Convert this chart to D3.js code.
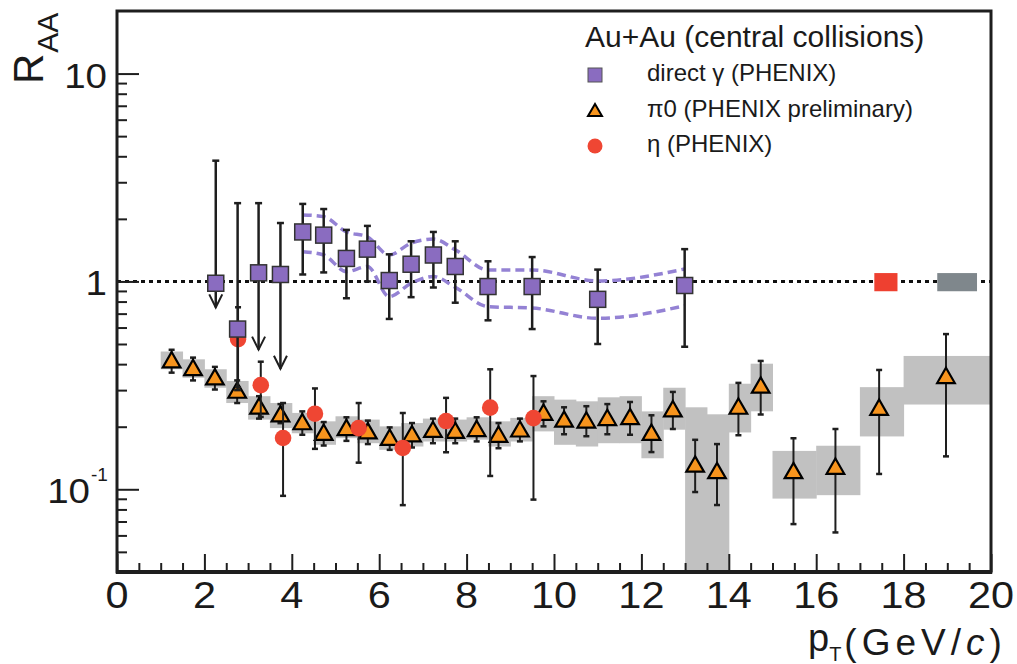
<!DOCTYPE html>
<html>
<head>
<title>RAA Au+Au</title>
<meta charset="utf-8">
<style type="text/css">
body { margin: 0; background: #ffffff; }
text { font-family: 'Liberation Sans', Arial, Helvetica, sans-serif; fill: #1a1a1a; }
</style>
</head>
<body>

<script src="https://d3js.org/d3.v7.min.js"></script>
<script type="text/javascript">

// ---- data ----

// direct photon (squares)
var gamX    = [2.26, 2.76, 3.24, 3.74, 4.25, 4.73, 5.25, 5.73, 6.23, 6.73, 7.24, 7.74, 8.49, 9.50, 11.0, 12.99];
var gamY    = [0.98, 0.59, 1.10, 1.08, 1.73, 1.67, 1.29, 1.43, 1.01, 1.21, 1.34, 1.18, 0.945, 0.945, 0.82, 0.956];
var gamHi   = [3.81, 2.38, 2.38, 1.91, 2.36, 2.23, 1.77, 1.85, 1.35, 1.56, 1.73, 1.56, 1.25, 1.31, 1.14, 1.43];
var gamLo   = [0.75, 0.30, 0.47, 0.38, 1.08, 1.105, 0.83, 1.00, 0.66, 0.84, 0.935, 0.79, 0.65, 0.59, 0.50, 0.485];
var gamLimit = [true, false, true, true, false, false, false, false, false, false, false, false, false, false, false, false];

// direct photon systematic band (dashed)
var bandX  = [4.25, 4.73, 5.25, 5.73, 6.23, 6.73, 7.24, 7.74, 8.49, 9.50, 11.0, 12.99];
var bandHi = [2.09, 2.05, 1.73, 1.64, 1.34, 1.53, 1.60, 1.42, 1.136, 1.136, 1.005, 1.148];
var bandLo = [1.39, 1.34, 1.115, 1.18, 0.845, 0.98, 1.055, 0.938, 0.756, 0.745, 0.665, 0.763];

// pi0 (triangles)
var piX  = [1.25, 1.74, 2.24, 2.75, 3.25, 3.74, 4.24, 4.73, 5.25, 5.74, 6.24, 6.75, 7.23, 7.74, 8.23, 8.73,
            9.22, 9.76, 10.23, 10.74, 11.22, 11.74, 12.23, 12.72, 13.23, 13.73, 14.22, 14.73, 15.48, 16.44, 17.44, 18.97];
var piY  = [0.413, 0.379, 0.342, 0.295, 0.2475, 0.227, 0.208, 0.185, 0.195, 0.188, 0.175, 0.182, 0.191, 0.189, 0.193, 0.181,
            0.192, 0.231, 0.214, 0.212, 0.218, 0.220, 0.185, 0.240, 0.130, 0.121, 0.247, 0.312, 0.121, 0.127, 0.244, 0.347];
var piHi = [0.469, 0.430, 0.388, 0.334, 0.2805, 0.257, 0.237, 0.2106, 0.222, 0.214, 0.1985, 0.2083, 0.2188, 0.2188, 0.222, 0.2083,
            0.2188, 0.265, 0.248, 0.251, 0.257, 0.263, 0.227, 0.294, 0.173, 0.165, 0.325, 0.4145, 0.176, 0.195, 0.375, 0.558];
var piLo = [0.364, 0.334, 0.302, 0.260, 0.2188, 0.208, 0.183, 0.1624, 0.171, 0.165, 0.1548, 0.1589, 0.1666, 0.1666, 0.170, 0.1576,
            0.170, 0.2008, 0.184, 0.180, 0.184, 0.183, 0.151, 0.195, 0.097, 0.084, 0.182, 0.229, 0.068, 0.062, 0.1185, 0.144];
// pi0 systematic boxes
var piBinLo = [1.0, 1.5, 2.0, 2.5, 3.0, 3.5, 4.0, 4.5, 5.0, 5.5, 6.0, 6.5, 7.0, 7.5, 8.0, 8.5,
               9.0, 9.5, 10.0, 10.5, 11.0, 11.5, 12.0, 12.5, 13.0, 13.5, 14.0, 14.5, 15, 16, 17, 18];
var piBinHi = [1.5, 2.0, 2.5, 3.0, 3.5, 4.0, 4.5, 5.0, 5.5, 6.0, 6.5, 7.0, 7.5, 8.0, 8.5, 9.0,
               9.5, 10.0, 10.5, 11.0, 11.5, 12.0, 12.5, 13.0, 13.5, 14.0, 14.5, 15, 16, 17, 18, 20];
var piSysHi = [0.460, 0.422, 0.378, 0.332, 0.2805, 0.260, 0.233, 0.2123, 0.2245, 0.2164, 0.2008, 0.2083, 0.2188, 0.2164, 0.222, 0.2123,
               0.2205, 0.2805, 0.270, 0.265, 0.277, 0.2805, 0.237, 0.308, 0.248, 0.2295, 0.322, 0.402, 0.153, 0.162, 0.310, 0.438];
var piSysLo = [0.378, 0.344, 0.308, 0.260, 0.2164, 0.197, 0.186, 0.1637, 0.1762, 0.1666, 0.1548, 0.1606, 0.1698, 0.1698, 0.1733, 0.1606,
               0.1698, 0.1899, 0.1637, 0.1606, 0.1666, 0.1666, 0.141, 0.1935, 0.02, 0.02, 0.1877, 0.2372, 0.0902, 0.0937, 0.1796, 0.2557];

// eta (circles)
var etaX  = [2.77, 3.29, 3.80, 4.53, 5.53, 6.54, 7.53, 8.54, 9.53];
var etaY  = [0.528, 0.317, 0.1765, 0.231, 0.197, 0.158, 0.213, 0.247, 0.220];
var etaHi = [0.751, 0.411, 0.260, 0.3056, 0.260, 0.2328, 0.2753, 0.3778, 0.3506];
var etaLo = [0.31, 0.223, 0.093, 0.1565, 0.1343, 0.0839, 0.1507, 0.1159, 0.0892];

// normalisation boxes at R_AA = 1
var normX0 = [17.33, 18.77];
var normX1 = [17.86, 19.68];
var normLo = [0.897, 0.897];
var normHi = [1.097, 1.097];
var normColor = ['#ee4030', '#7f878c'];

// ticks
var xMajor = [0, 2, 4, 6, 8, 10, 12, 14, 16, 18, 20];
var xLabels = ['0', '2', '4', '6', '8', '10', '12', '14', '16', '18', '20'];
var xMinor = d3.range(0.5, 20, 0.5).filter(function(v) { return v % 2 != 0; });
var yMajor = [0.1, 1, 10];
var yLabelBase = ['10', '1', '10'];
var yLabelExp = ['-1', '', ''];
var yMinor = [0.05, 0.06, 0.07, 0.08, 0.09, 0.2, 0.3, 0.4, 0.5, 0.6, 0.7, 0.8, 0.9, 2, 3, 4, 5, 6, 7, 8, 9];

var legendText = ['direct \u03b3 (PHENIX)', '\u03c00 (PHENIX preliminary)', '\u03b7 (PHENIX)'];

// ---- layout ----
var width = 1017, height = 664;
var pLeft = 117, pRight = 991, pTop = 11, pBottom = 572;

var x = d3.scaleLinear().domain([0, 20]).range([pLeft, pRight]);
var y = d3.scaleLog().domain([0.04, 20]).range([pBottom, pTop]);

var purple = '#8a6cc0', band = '#9482d4', orange = '#f7941d', red = '#ef4633', gray = '#c1c1c1', ink = '#1e1e1e';

var svg = d3.select('body').append('svg')
    .attr('width', width)
    .attr('height', height);

svg.append('defs').append('clipPath').attr('id', 'plotclip')
  .append('rect')
    .attr('x', pLeft).attr('y', pTop)
    .attr('width', pRight - pLeft).attr('height', pBottom - pTop);

var plot = svg.append('g').attr('clip-path', 'url(#plotclip)');

// pi0 systematic boxes
var pi0 = piX.map(function(v, i) {
  return {x: v, y: piY[i], hi: piHi[i], lo: piLo[i], x0: piBinLo[i], x1: piBinHi[i], sHi: piSysHi[i], sLo: piSysLo[i]};
});

plot.selectAll('.sys')
    .data(pi0)
  .enter().append('rect')
    .attr('x', function(d) { return x(d.x0); })
    .attr('width', function(d) { return x(d.x1) - x(d.x0) + 0.5; })
    .attr('y', function(d) { return y(d.sHi); })
    .attr('height', function(d) { return y(d.sLo) - y(d.sHi); })
    .attr('fill', gray);

// dotted line at 1
plot.append('line')
    .attr('x1', x(0)).attr('x2', x(20))
    .attr('y1', y(1)).attr('y2', y(1))
    .attr('stroke', '#111')
    .attr('stroke-width', 3)
    .attr('stroke-dasharray', '4,4');

// normalisation boxes
plot.selectAll('.norm')
    .data(normX0)
  .enter().append('rect')
    .attr('x', function(d) { return x(d); })
    .attr('width', function(d, i) { return x(normX1[i]) - x(d); })
    .attr('y', function(d, i) { return y(normHi[i]); })
    .attr('height', function(d, i) { return y(normLo[i]) - y(normHi[i]); })
    .attr('fill', function(d, i) { return normColor[i]; });

// photon systematic band
var bandLine = function(vals) {
  return d3.line()
      .x(function(d, i) { return x(bandX[i]); })
      .y(function(d) { return y(d); })
      .curve(d3.curveMonotoneX)(vals);
};
[bandHi, bandLo].forEach(function(vals) {
  plot.append('path')
      .attr('d', bandLine(vals))
      .attr('fill', 'none')
      .attr('stroke', band)
      .attr('stroke-width', 3.5)
      .attr('stroke-dasharray', '9,5');
});

// error bars helper
function errorBars(g, xs, lo, hi, lw, capw, noLowCap) {
  xs.forEach(function(v, i) {
    g.append('line')
        .attr('x1', x(v)).attr('x2', x(v))
        .attr('y1', y(hi[i])).attr('y2', y(lo[i]))
        .attr('stroke', ink).attr('stroke-width', lw);
    g.append('line')
        .attr('x1', x(v) - capw / 2).attr('x2', x(v) + capw / 2)
        .attr('y1', y(hi[i])).attr('y2', y(hi[i]))
        .attr('stroke', ink).attr('stroke-width', 2.5);
    if (!(noLowCap && noLowCap[i])) {
      g.append('line')
          .attr('x1', x(v) - capw / 2).attr('x2', x(v) + capw / 2)
          .attr('y1', y(lo[i])).attr('y2', y(lo[i]))
          .attr('stroke', ink).attr('stroke-width', 2.5);
    }
  });
}

// pi0 points
errorBars(plot, piX, piLo, piHi, 2, 6);
plot.selectAll('.tri')
    .data(pi0)
  .enter().append('path')
    .attr('d', d3.symbol().type(d3.symbolTriangle).size(135))
    .attr('transform', function(d) { return 'translate(' + x(d.x) + ',' + (y(d.y) + 1) + ')'; })
    .attr('fill', orange)
    .attr('stroke', '#000')
    .attr('stroke-width', 2.2);

// eta points
errorBars(plot, etaX, etaLo, etaHi, 2, 6);
plot.selectAll('.eta')
    .data(etaX)
  .enter().append('circle')
    .attr('cx', function(d) { return x(d); })
    .attr('cy', function(d, i) { return y(etaY[i]); })
    .attr('r', 8.3)
    .attr('fill', red);

// photon points
errorBars(plot, gamX, gamLo, gamHi, 2.5, 7, gamLimit);
gamX.forEach(function(v, i) {
  if (gamLimit[i]) {
    var tip = y(gamLo[i]);
    plot.append('path')
        .attr('d', 'M' + (x(v) - 6.5) + ',' + (tip - 13) + 'L' + x(v) + ',' + tip + 'L' + (x(v) + 6.5) + ',' + (tip - 13))
        .attr('fill', 'none')
        .attr('stroke', ink)
        .attr('stroke-width', 2);
  }
});
plot.selectAll('.gam')
    .data(gamX)
  .enter().append('rect')
    .attr('x', function(d) { return x(d) - 8; })
    .attr('y', function(d, i) { return y(gamY[i]) - 8; })
    .attr('width', 16)
    .attr('height', 16)
    .attr('fill', purple)
    .attr('stroke', '#333')
    .attr('stroke-width', 1.5);

// ---- axes ----
function tickAxis(axis, tr) {
  var g = svg.append('g').attr('transform', tr).call(axis);
  g.select('.domain').remove();
  g.selectAll('line').attr('stroke', ink).attr('stroke-width', 2);
  return g;
}
tickAxis(d3.axisLeft(y).tickValues(yMajor).tickSize(-22).tickFormat(''), 'translate(' + pLeft + ',0)');
tickAxis(d3.axisLeft(y).tickValues(yMinor).tickSize(-10).tickFormat(''), 'translate(' + pLeft + ',0)');
tickAxis(d3.axisBottom(x).tickValues(xMajor).tickSize(-18).tickFormat(''), 'translate(0,' + pBottom + ')');
tickAxis(d3.axisBottom(x).tickValues(xMinor).tickSize(-9).tickFormat(''), 'translate(0,' + pBottom + ')');

// frame
svg.append('rect')
    .attr('x', pLeft).attr('y', pTop)
    .attr('width', pRight - pLeft).attr('height', pBottom - pTop)
    .attr('fill', 'none')
    .attr('stroke', ink)
    .attr('stroke-width', 3);
svg.append('line')
    .attr('x1', pLeft - 1).attr('x2', pRight + 1)
    .attr('y1', pBottom).attr('y2', pBottom)
    .attr('stroke', ink).attr('stroke-width', 4);

// x tick labels
svg.selectAll('.xlab')
    .data(xMajor)
  .enter().append('text')
    .attr('transform', function(d) { return 'translate(' + x(d) + ',608) scale(1.12,1)'; })
    .attr('text-anchor', 'middle')
    .attr('font-size', '37px')
    .text(function(d, i) { return xLabels[i]; });

// y tick labels
yMajor.forEach(function(v, i) {
  svg.append('text')
      .attr('transform', 'translate(' + (yLabelExp[i] ? 90 : 107) + ',' + (y(v) + 14) + ') scale(1.1,1)')
      .attr('text-anchor', 'end')
      .attr('font-size', '35px')
      .text(yLabelBase[i]);
  if (yLabelExp[i]) {
    svg.append('text')
        .attr('x', 91).attr('y', y(v) - 8)
        .attr('font-size', '19px')
        .text(yLabelExp[i]);
  }
});

// y title R_AA
var yt = svg.append('text')
    .attr('transform', 'translate(43,84) rotate(-90)');
yt.append('tspan').attr('font-size', '42px').text('R');
yt.append('tspan').attr('font-size', '30px').attr('dy', 15).attr('dx', 1).text('AA');

// x title p_T (GeV/c), one text element
var xt = svg.append('text').attr('x', 808).attr('y', 651);
xt.append('tspan').attr('font-size', '38px').text('p');
xt.append('tspan').attr('font-size', '20px').attr('dy', 10).text('T');
xt.append('tspan').attr('font-size', '37px').attr('dy', -6).attr('dx', 3)
    .attr('letter-spacing', '5px').text('(GeV/');
xt.append('tspan').attr('font-size', '37px').attr('font-style', 'italic')
    .attr('letter-spacing', '5px').text('c');
xt.append('tspan').attr('font-size', '37px').text(')');

// ---- legend ----
svg.append('text')
    .attr('x', 585).attr('y', 47)
    .attr('font-size', '30px')
    .text('Au+Au (central collisions)');

var legY = [75, 111, 146];
svg.append('rect')
    .attr('x', 595 - 7).attr('y', legY[0] - 7)
    .attr('width', 14).attr('height', 14)
    .attr('fill', purple).attr('stroke', '#555').attr('stroke-width', 1);
svg.append('path')
    .attr('d', d3.symbol().type(d3.symbolTriangle).size(85))
    .attr('transform', 'translate(595,' + (legY[1] + 1) + ')')
    .attr('fill', orange).attr('stroke', '#000').attr('stroke-width', 2);
svg.append('circle')
    .attr('cx', 595).attr('cy', legY[2])
    .attr('r', 7.5)
    .attr('fill', red);

svg.selectAll('.legtext')
    .data(legendText)
  .enter().append('text')
    .attr('x', 647)
    .attr('y', function(d, i) { return legY[i] + 6; })
    .attr('font-size', '24px')
    .text(function(d) { return d; });

</script>

</body>
</html>
